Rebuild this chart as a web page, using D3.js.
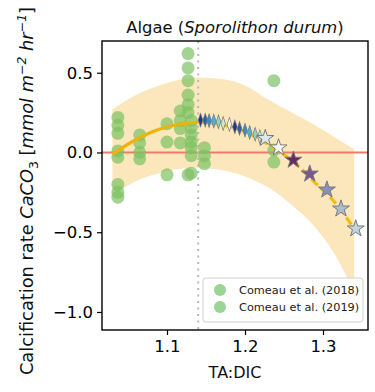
<!DOCTYPE html>
<html><head><meta charset="utf-8">
<script src="https://cdn.jsdelivr.net/npm/d3@7"></script>
<style>body{margin:0;background:#fff}svg{display:block}</style>
</head><body><svg id="c" width="375" height="392"></svg>
<script>
// ---- data ----
const xTicks = [1.1, 1.2, 1.3];
const yTicks = [0.5, 0.0, -0.5, -1.0];
const legendLabels = ["Comeau et al. (2018)", "Comeau et al. (2019)"];

const comeau2018X = [1.037,1.037,1.037,1.037,1.037,1.037,1.037,1.037, 1.065,1.065,1.065,1.065, 1.100,1.100,1.100, 1.237,1.237,1.237];
const comeau2018Y = [0.22,0.17,0.12,0.01,-0.03,-0.20,-0.25,-0.28, 0.11,0.06,0.0,-0.04, 0.18,0.065,-0.14, 0.45,0.015,-0.06];

const comeau2019X = [1.117,1.117,1.117,1.117, 1.127,1.127,1.127,1.127,1.127,1.127,1.131,1.131,1.131,1.131,1.131,1.131,1.131,1.127, 1.148,1.148,1.148];
const comeau2019Y = [0.26,0.20,0.15,0.06, 0.62,0.53,0.45,0.36,0.30,0.25,0.20,0.155,0.11,0.065,0.03,-0.02,-0.13,-0.14, 0.03,-0.02,-0.07];

const diamondX = [1.143,1.149,1.154,1.160,1.166,1.172,1.180,1.187,1.193,1.200,1.206,1.213,1.219];
const diamondY = [0.203,0.203,0.200,0.197,0.193,0.182,0.176,0.161,0.151,0.140,0.126,0.114,0.099];
const diamondC = ["#253494","#2c5fa8","#3a8cbf","#4eb3cf","#8fd3c4","#cbe9c8","#eef7e4","#253494","#2c5fa8","#3a8cbf","#4eb3cf","#8fd3c4","#cbe9c8"];

const starX = [1.226,1.243,1.262,1.283,1.305,1.323,1.342];
const starY = [0.089,0.030,-0.047,-0.134,-0.234,-0.353,-0.478];
const starC = ["#dde8ec","#f6faf6","#6b2a5e","#7c5690","#8a90b8","#a8bfd0","#c4d4e0"];

const fitX = [1.03,1.06,1.09,1.12,1.14,1.17,1.20,1.23,1.26,1.29,1.32,1.34];
const fitY = [-0.01,0.08,0.145,0.18,0.19,0.175,0.13,0.05,-0.05,-0.19,-0.34,-0.48];
const bandUpper = [0.27,0.36,0.42,0.46,0.47,0.46,0.42,0.33,0.25,0.17,0.08,0.02];
const bandLower = [-0.27,-0.18,-0.13,-0.10,-0.095,-0.11,-0.15,-0.22,-0.33,-0.47,-0.68,-0.88];
const thresholdX = 1.14;

// ---- layout ----
const L = 102, R = 368, T = 41, B = 330;
const FONT = "DejaVu Sans, Liberation Sans, sans-serif";
const svg = d3.select("#c");
const x = d3.scaleLinear().domain([1.01667, 1.35769]).range([L, R]);
const y = d3.scaleLinear().domain([-1.113, 0.699]).range([B, T]);

svg.append("defs").append("clipPath").attr("id","clip")
  .append("rect").attr("x",L).attr("y",T).attr("width",R-L).attr("height",B-T);
const g = svg.append("g").attr("clip-path","url(#clip)");

// band
const bandIdx = d3.range(fitX.length);
g.append("path")
  .attr("d", d3.area().x(i=>x(fitX[i])).y0(i=>y(bandLower[i])).y1(i=>y(bandUpper[i])).curve(d3.curveMonotoneX)(bandIdx))
  .attr("fill","#fce7bd");

// zero line
g.append("line").attr("x1",L).attr("x2",R).attr("y1",y(0)).attr("y2",y(0))
  .attr("stroke","#f07a6a").attr("stroke-width",2);

// threshold
g.append("line").attr("x1",x(thresholdX)).attr("x2",x(thresholdX)).attr("y1",T).attr("y2",B)
  .attr("stroke","#b8b8b8").attr("stroke-width",2).attr("stroke-dasharray","2,4.5");

// circles
const circ = (xs, ys) => g.append("g").selectAll("circle").data(d3.range(xs.length)).join("circle")
  .attr("cx",i=>x(xs[i])).attr("cy",i=>y(ys[i])).attr("r",6.5)
  .attr("fill","#7cc262").attr("fill-opacity",0.7);
circ(comeau2018X, comeau2018Y);
circ(comeau2019X, comeau2019Y);

// fit line
const line = d3.line().x(i=>x(fitX[i])).y(i=>y(fitY[i])).curve(d3.curveMonotoneX);
const solidIdx = bandIdx.filter(i=>fitX[i] <= thresholdX);
const dashIdx = bandIdx.filter(i=>fitX[i] >= thresholdX);
g.append("path").attr("d", line(solidIdx)).attr("fill","none").attr("stroke","#f0b20a").attr("stroke-width",3.2);
g.append("path").attr("d", line(dashIdx)).attr("fill","none").attr("stroke","#f2bd0c").attr("stroke-width",3.2).attr("stroke-dasharray","9,4");

// diamonds
const dia = d3.symbol().type(d3.symbolDiamond).size(50)();
g.append("g").selectAll("path").data(d3.range(diamondX.length)).join("path")
  .attr("d", dia)
  .attr("transform", i=>`translate(${x(diamondX[i])},${y(diamondY[i])}) scale(0.6,1.05)`)
  .attr("fill", i=>diamondC[i]).attr("stroke","#777").attr("stroke-width",1);

// stars
const star = d3.symbol().type(d3.symbolStar).size(90)();
g.append("g").selectAll("path").data(d3.range(starX.length)).join("path")
  .attr("d", star)
  .attr("transform", i=>`translate(${x(starX[i])},${y(starY[i])})`)
  .attr("fill", i=>starC[i]).attr("stroke","#7a7a7a").attr("stroke-width",1);

// axes
const fmt = d => d3.format(".1f")(d).replace("-", "\u2212");
const xa = svg.append("g").attr("transform",`translate(0,${B})`)
  .call(d3.axisBottom(x).tickValues(xTicks).tickFormat(fmt).tickSize(5).tickPadding(5));
const ya = svg.append("g").attr("transform",`translate(${L},0)`)
  .call(d3.axisLeft(y).tickValues(yTicks).tickFormat(fmt).tickSize(5).tickPadding(4));
[xa, ya].forEach(a=>{
  a.select(".domain").remove();
  a.selectAll("line").attr("stroke","#000").attr("stroke-width",1.2);
  a.selectAll("text").attr("font-family",FONT).attr("font-size",16.5).attr("fill","#000");
});

// frame
svg.append("rect").attr("x",L).attr("y",T).attr("width",R-L).attr("height",B-T)
  .attr("fill","none").attr("stroke","#000").attr("stroke-width",1.4);

// legend
const lg = svg.append("g");
lg.append("rect").attr("x",203).attr("y",278).attr("width",160).attr("height",44).attr("rx",3)
  .attr("fill","#fff").attr("fill-opacity",0.85).attr("stroke","#d0d0d0").attr("stroke-width",1);
legendLabels.forEach((t,i)=>{
  const yy = 290 + i*17;
  lg.append("circle").attr("cx",220).attr("cy",yy).attr("r",6).attr("fill","#8fd08a").attr("fill-opacity",0.9);
  lg.append("text").attr("x",239).attr("y",yy+4.2).attr("font-family",FONT).attr("font-size",11.3)
    .attr("fill","#222").text(t);
});

// title
const title = svg.append("text").attr("x",(L+R)/2).attr("y",33).attr("text-anchor","middle")
  .attr("font-family",FONT).attr("font-size",16.4).attr("fill","#111");
title.append("tspan").text("Algae (");
title.append("tspan").attr("font-style","italic").text("Sporolithon durum");
title.append("tspan").text(")");

// x label
svg.append("text").attr("x",(L+R)/2).attr("y",378).attr("text-anchor","middle")
  .attr("font-family",FONT).attr("font-size",16).attr("fill","#111").text("TA:DIC");

// y label
const yl = svg.append("text").attr("transform","translate(33,191) rotate(-90)").attr("text-anchor","middle")
  .attr("font-family",FONT).attr("font-size",17.8).attr("fill","#111");
yl.append("tspan").text("Calcification rate ");
yl.append("tspan").attr("font-style","italic").text("CaCO");
yl.append("tspan").attr("font-size",12.5).attr("dy",4.5).text("3");
yl.append("tspan").attr("dy",-4.5).text(" [");
yl.append("tspan").attr("font-style","italic").text("mmol m");
yl.append("tspan").attr("font-style","italic").attr("font-size",12.5).attr("dy",-7.5).text("\u22122");
yl.append("tspan").attr("font-style","italic").attr("dy",7.5).text(" hr");
yl.append("tspan").attr("font-style","italic").attr("font-size",12.5).attr("dy",-7.5).text("\u22121");
yl.append("tspan").attr("dy",7.5).text("]");
</script></body></html>
